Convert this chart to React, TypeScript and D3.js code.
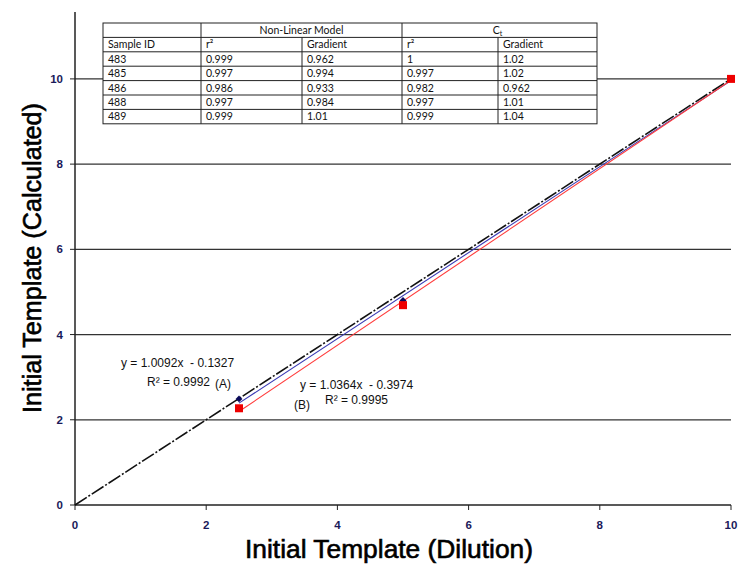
import React, { useEffect, useRef } from 'react';
import * as d3 from 'd3';

// dilution points and the two sample series
const dilution = [2.5, 5, 10];
const seriesA = [2.49, 4.8, 10.0];
const seriesB = [2.27, 4.69, 10.0];

// linear fits shown on the chart
const fitA = { slope: 1.0092, intercept: -0.1327, r2: '0.9992', label: '(A)' };
const fitB = { slope: 1.0364, intercept: -0.3974, r2: '0.9995', label: '(B)' };

const xTicks = [0, 2, 4, 6, 8, 10];
const yTicks = [0, 2, 4, 6, 8, 10];
const gridValues = [2, 4, 6, 8, 10];

// inset table
const sampleIds = ['483', '485', '486', '488', '489'];
const nlR2 = ['0.999', '0.997', '0.986', '0.997', '0.999'];
const nlGradient = ['0.962', '0.994', '0.933', '0.984', '1.01'];
const ctR2 = ['1', '0.997', '0.982', '0.997', '0.999'];
const ctGradient = ['1.02', '1.02', '0.962', '1.01', '1.04'];

const fmt = (v: number) => (v < 0 ? '\u00a0 - ' : '\u00a0 + ') + Math.abs(v).toFixed(4);

export default function App() {
  const ref = useRef<SVGSVGElement | null>(null);

  useEffect(() => {
    if (!ref.current) return;
    const svg = d3.select(ref.current);
    svg.selectAll('*').remove();

    const x = d3.scaleLinear().domain([0, 10]).range([75, 731]);
    const y = d3.scaleLinear().domain([0, 11.57]).range([505, 12]);

    // gridlines
    svg
      .append('g')
      .selectAll('line')
      .data(gridValues)
      .join('line')
      .attr('x1', x(0))
      .attr('x2', x(10))
      .attr('y1', (d) => y(d))
      .attr('y2', (d) => y(d))
      .attr('stroke', '#333')
      .attr('stroke-width', 1.2);

    // axes
    const axisColor = '#222';
    svg
      .append('line')
      .attr('x1', x(0))
      .attr('x2', x(0))
      .attr('y1', y(11.57))
      .attr('y2', y(0))
      .attr('stroke', axisColor)
      .attr('stroke-width', 1.5);
    svg
      .append('line')
      .attr('x1', x(0))
      .attr('x2', x(10))
      .attr('y1', y(0))
      .attr('y2', y(0))
      .attr('stroke', axisColor)
      .attr('stroke-width', 1.5);

    const tickColor = '#1a1a5a';
    svg
      .append('g')
      .selectAll('line')
      .data(yTicks)
      .join('line')
      .attr('x1', x(0) - 5)
      .attr('x2', x(0))
      .attr('y1', (d) => y(d))
      .attr('y2', (d) => y(d))
      .attr('stroke', axisColor);
    svg
      .append('g')
      .selectAll('text')
      .data(yTicks)
      .join('text')
      .attr('x', x(0) - 12)
      .attr('y', (d) => y(d) + 4)
      .attr('text-anchor', 'end')
      .style('font-family', 'Liberation Sans, Arial')
      .style('font-size', '11.5px')
      .style('font-weight', 'bold')
      .attr('fill', tickColor)
      .text((d) => d);

    svg
      .append('g')
      .selectAll('line')
      .data(xTicks)
      .join('line')
      .attr('x1', (d) => x(d))
      .attr('x2', (d) => x(d))
      .attr('y1', y(0))
      .attr('y2', y(0) + 5)
      .attr('stroke', axisColor);
    svg
      .append('g')
      .selectAll('text')
      .data(xTicks)
      .join('text')
      .attr('x', (d) => x(d))
      .attr('y', y(0) + 24)
      .attr('text-anchor', 'middle')
      .style('font-family', 'Liberation Sans, Arial')
      .style('font-size', '11.5px')
      .style('font-weight', 'bold')
      .attr('fill', tickColor)
      .text((d) => d);

    // axis titles
    svg
      .append('text')
      .attr('x', 389)
      .attr('y', 558)
      .attr('text-anchor', 'middle')
      .style('font-family', 'Liberation Sans, Arial')
      .style('font-size', '25px')
      .attr('textLength', 288)
      .attr('lengthAdjust', 'spacingAndGlyphs')
      .attr('fill', '#000')
      .attr('stroke', '#000')
      .attr('stroke-width', 0.6)
      .text('Initial Template (Dilution)');
    svg
      .append('text')
      .attr('transform', 'translate(41, 258) rotate(-90)')
      .attr('text-anchor', 'middle')
      .style('font-family', 'Liberation Sans, Arial')
      .style('font-size', '25px')
      .attr('textLength', 310)
      .attr('lengthAdjust', 'spacingAndGlyphs')
      .attr('fill', '#000')
      .attr('stroke', '#000')
      .attr('stroke-width', 0.6)
      .text('Initial Template (Calculated)');

    // identity line
    const line = d3
      .line<[number, number]>()
      .x((d) => x(d[0]))
      .y((d) => y(d[1]));
    svg
      .append('path')
      .attr('d', line([[0, 0], [10, 10]]))
      .attr('fill', 'none')
      .attr('stroke', '#111')
      .attr('stroke-width', 1.6)
      .attr('stroke-dasharray', '14,2,2,2');

    // trend lines
    const xs = d3.extent(dilution) as [number, number];
    const trend = (f: typeof fitA) => xs.map((v) => [v, f.slope * v + f.intercept] as [number, number]);
    svg
      .append('path')
      .attr('d', line(trend(fitA)))
      .attr('fill', 'none')
      .attr('stroke', '#3b3bb5')
      .attr('stroke-width', 1.1);
    svg
      .append('path')
      .attr('d', line(trend(fitB)))
      .attr('fill', 'none')
      .attr('stroke', '#ff3b3b')
      .attr('stroke-width', 1.1);

    // markers
    svg
      .append('g')
      .selectAll('path')
      .data(dilution)
      .join('path')
      .attr('d', d3.symbol(d3.symbolDiamond2, 30)())
      .attr('transform', (d, i) => `translate(${x(d)},${y(seriesA[i])})`)
      .attr('fill', '#0a0a5a');
    svg
      .append('g')
      .selectAll('rect')
      .data(dilution)
      .join('rect')
      .attr('x', (d) => x(d) - 4)
      .attr('y', (d, i) => y(seriesB[i]) - 4)
      .attr('width', 8)
      .attr('height', 8)
      .attr('fill', '#ee0000');

    // equation labels
    const note = (tx: number, ty: number, s: string) =>
      svg
        .append('text')
        .attr('x', tx)
        .attr('y', ty)
        .style('font-family', 'Liberation Sans, Arial')
        .style('font-size', '12px')
        .attr('fill', '#111')
        .text(s);
    note(121, 367, `y = ${fitA.slope.toFixed(4)}x${fmt(fitA.intercept)}`);
    note(147, 386, `R² = ${fitA.r2}`);
    note(215, 388, fitA.label);
    note(300, 389, `y = ${fitB.slope.toFixed(4)}x${fmt(fitB.intercept)}`);
    note(325, 404, `R² = ${fitB.r2}`);
    note(294, 409, fitB.label);

    // table
    const cols = [103, 201, 302, 402, 498, 597];
    const top = 23;
    const rh = 14.4;
    const nRows = 2 + sampleIds.length;
    const tbl = svg.append('g');
    tbl
      .append('rect')
      .attr('x', cols[0])
      .attr('y', top)
      .attr('width', cols[5] - cols[0])
      .attr('height', rh * nRows)
      .attr('fill', '#fff')
      .attr('stroke', '#222')
      .attr('stroke-width', 1);
    d3.range(1, nRows).forEach((r) => {
      tbl
        .append('line')
        .attr('x1', cols[0])
        .attr('x2', cols[5])
        .attr('y1', top + r * rh)
        .attr('y2', top + r * rh)
        .attr('stroke', '#222');
    });
    cols.slice(1, 5).forEach((c, i) => {
      const spanned = i === 1 || i === 3;
      tbl
        .append('line')
        .attr('x1', c)
        .attr('x2', c)
        .attr('y1', spanned ? top + rh : top)
        .attr('y2', top + rh * nRows)
        .attr('stroke', '#222');
    });
    const cellText = (tx: number, ty: number, s: string, anchor = 'start') =>
      tbl
        .append('text')
        .attr('x', tx)
        .attr('y', ty)
        .attr('text-anchor', anchor)
        .style('font-family', 'Lato, Open Sans, sans-serif')
        .style('font-size', '10.5px')
        .attr('fill', '#111')
        .text(s);
    cellText((cols[1] + cols[3]) / 2, top + rh - 3.5, 'Non-Linear Model', 'middle');
    const ct = cellText((cols[3] + cols[5]) / 2 - 2, top + rh - 3.5, 'C', 'middle');
    ct.append('tspan').attr('dy', 2).style('font-size', '7px').text('t');
    const head = ['Sample ID', 'r²', 'Gradient', 'r²', 'Gradient'];
    head.forEach((h, i) => cellText(cols[i] + 5, top + 2 * rh - 3.5, h));
    const columns = [sampleIds, nlR2, nlGradient, ctR2, ctGradient];
    sampleIds.forEach((_, r) => {
      columns.forEach((col, c) => cellText(cols[c] + 5, top + (r + 3) * rh - 3.5, col[r]));
    });
  }, []);

  return (
    <svg
      ref={ref}
      width={750}
      height={574}
      style={{ position: 'absolute', left: 0, top: 0, background: '#fff' }}
    />
  );
}
